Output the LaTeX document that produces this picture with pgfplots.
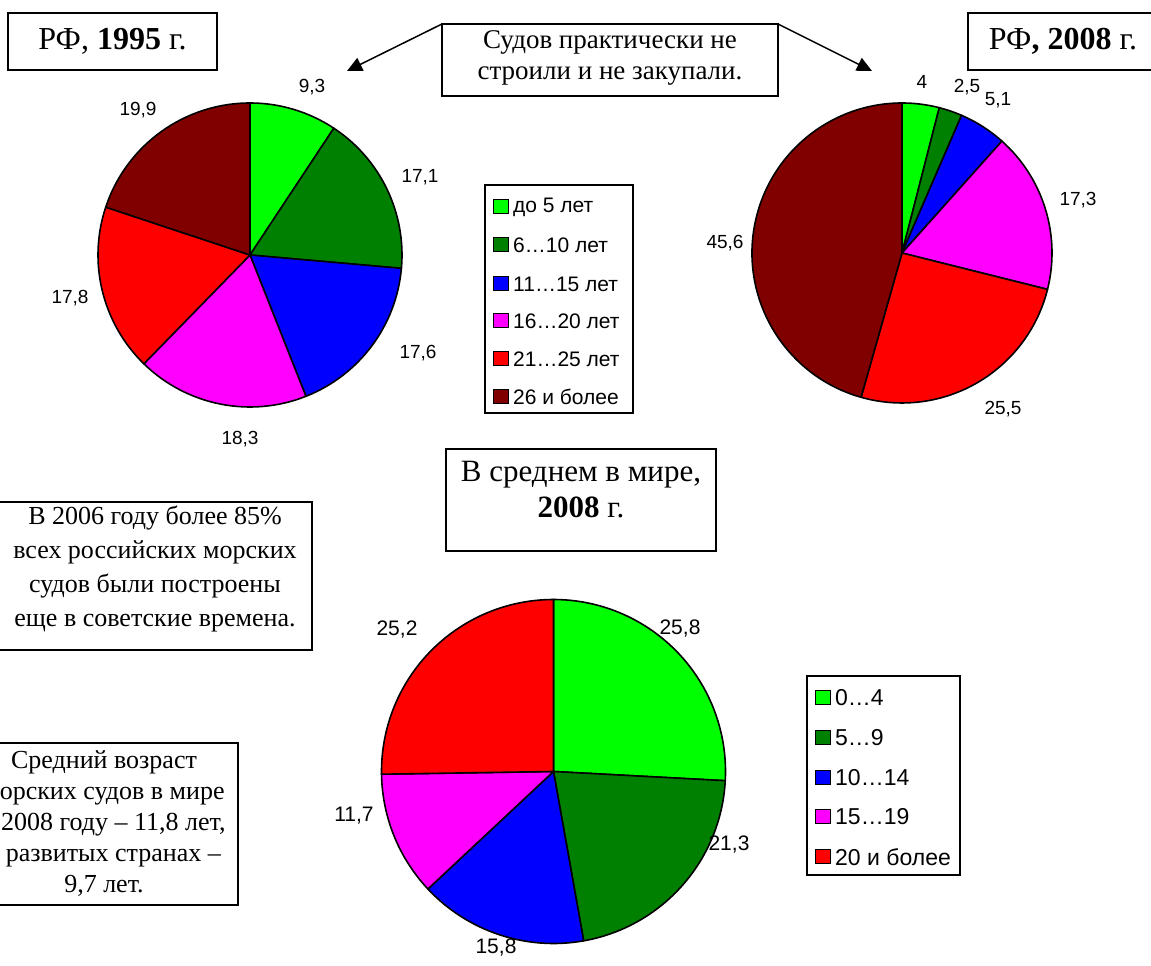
\documentclass[border=0pt]{standalone}
\usepackage{pgfplots}
\pgfplotsset{compat=1.18}
\usepackage{fontspec}
\setmainfont{Liberation Serif}
\newfontfamily\arial{Liberation Sans}
\usetikzlibrary{arrows.meta}

\definecolor{age1}{RGB}{0,255,0}
\definecolor{age2}{RGB}{0,128,0}
\definecolor{age3}{RGB}{0,0,255}
\definecolor{age4}{RGB}{255,0,255}
\definecolor{age5}{RGB}{255,0,0}
\definecolor{age6}{RGB}{128,0,0}

% one slice: #1 colour, #2 share before it, #3 its share, #4 degrees per unit, #5 radius
\newcommand{\slice}[5]{%
  \addplot[fill=#1, draw=black, line width=1.6pt, line join=round]
    table[row sep=\\, x expr={\thisrow{r}*cos(90-#4*#2)}, y expr={\thisrow{r}*sin(90-#4*#2)}]
    {r\\ 0\\ 1\\}
    arc[start angle={90-#4*#2}, end angle={90-#4*(#2+#3)}, radius=#5] -- cycle;}

\pgfplotsset{pie/.style={hide axis, scale only axis, width=#1, height=#1,
  xmin=-1, xmax=1, ymin=-1, ymax=1, anchor=center, clip=false}}

% legend row: x, y (page px, downwards), colour, text
\newcommand{\legitem}[4]{%
  \draw[fill=#3, line width=1pt] (#1,#2-7) rectangle ++(15,14);
  \node[anchor=west, inner sep=0pt] at (#1+20,#2) {#4};}

\begin{document}
\begin{tikzpicture}
\useasboundingbox (0,0) rectangle (1151pt,966pt);

% RF 1995: 9.3 17.1 17.6 18.3 17.8 19.9
\begin{axis}[pie=304pt, at={(250pt,711pt)}]
\slice{age1}{0}{9.3}{3.6}{152pt}
\slice{age2}{9.3}{17.1}{3.6}{152pt}
\slice{age3}{26.4}{17.6}{3.6}{152pt}
\slice{age4}{44.0}{18.3}{3.6}{152pt}
\slice{age5}{62.3}{17.8}{3.6}{152pt}
\slice{age6}{80.1}{19.9}{3.6}{152pt}
\end{axis}

% RF 2008: 4 2.5 5.1 17.3 25.5 45.6
\begin{axis}[pie=300pt, at={(902pt,713pt)}]
\slice{age1}{0}{4}{3.6}{150pt}
\slice{age2}{4}{2.5}{3.6}{150pt}
\slice{age3}{6.5}{5.1}{3.6}{150pt}
\slice{age4}{11.6}{17.3}{3.6}{150pt}
\slice{age5}{28.9}{25.5}{3.6}{150pt}
\slice{age6}{54.4}{45.6}{3.6}{150pt}
\end{axis}

% world 2008: 25.8 21.3 15.8 11.7 25.2 (sum 99.8)
\begin{axis}[pie=344pt, at={(553.5pt,194.5pt)}]
\slice{age1}{0}{25.8}{3.6072}{172pt}
\slice{age2}{25.8}{21.3}{3.6072}{172pt}
\slice{age3}{47.1}{15.8}{3.6072}{172pt}
\slice{age4}{62.9}{11.7}{3.6072}{172pt}
\slice{age5}{74.6}{25.2}{3.6072}{172pt}
\end{axis}

\begin{scope}[x=1pt, y=-1pt, yshift=966pt]
% value labels
\begin{scope}[font=\arial\fontsize{19}{22}\selectfont]
\node at (312,87) {9,3};
\node at (420,177) {17,1};
\node at (418,353) {17,6};
\node at (240,439) {18,3};
\node at (70,298) {17,8};
\node at (138,110) {19,9};
\node at (922,82) {4};
\node at (967,87) {2,5};
\node at (998,100) {5,1};
\node at (1078,200) {17,3};
\node at (1003,409) {25,5};
\node at (725,243) {45,6};
\end{scope}
\begin{scope}[font=\arial\fontsize{21}{24}\selectfont]
\node at (680,629) {25,8};
\node at (729,845) {21,3};
\node at (496,948) {15,8};
\node at (354,816) {11,7};
\node at (397,630) {25,2};
\end{scope}

% titles and notes
\draw[line width=1.5pt] (8,13) rectangle (217,70);
\node[font=\fontsize{32}{36}\selectfont] at (112.5,41.5) {РФ, \textbf{1995} г.};
\draw[line width=1.5pt] (968,13) rectangle (1158,70);
\node[font=\fontsize{32}{36}\selectfont] at (1063,41.5) {РФ\textbf{, 2008} г.};

\draw[line width=1.5pt] (442,24) rectangle (778,96);
\node[align=center, font=\fontsize{27}{31}\selectfont] at (610,58) {Судов практически не\\строили и не закупали.};
\draw[line width=1.5pt, -{Triangle[length=15pt, width=14pt]}] (442,24) -- (347,71);
\draw[line width=1.5pt, -{Triangle[length=15pt, width=14pt]}] (778,24) -- (872,71);

\draw[line width=1.5pt] (446,449) rectangle (716,551);
\node[align=center, font=\fontsize{31}{36}\selectfont] at (581,490) {В среднем в мире,\\\textbf{2008} г.};

\draw[line width=1.5pt] (-2,502) rectangle (312,650);
\node[align=center, font=\fontsize{26}{34}\selectfont] at (155,569) {В 2006 году более 85\%\\всех российских морских\\судов были построены\\еще в советские времена.};

\draw[line width=1.5pt] (-28,743) rectangle (238,905);
\node[align=center, font=\fontsize{26}{31}\selectfont] at (104,824) {Средний возраст\\морских судов в мире\\в 2008 году – 11,8 лет,\\в развитых странах –\\9,7 лет.};

% legends
\draw[line width=1.5pt] (485,185) rectangle (633,413);
\begin{scope}[font=\arial\fontsize{21}{24}\selectfont]
\legitem{493}{207}{age1}{до 5 лет}
\legitem{493}{245}{age2}{6…10 лет}
\legitem{493}{284}{age3}{11…15 лет}
\legitem{493}{321}{age4}{16…20 лет}
\legitem{493}{359}{age5}{21…25 лет}
\legitem{493}{397}{age6}{26 и более}
\end{scope}

\draw[line width=1.5pt] (807,676) rectangle (960,875);
\begin{scope}[font=\arial\fontsize{23}{26}\selectfont]
\legitem{815}{698}{age1}{0…4}
\legitem{815}{738}{age2}{5…9}
\legitem{815}{778}{age3}{10…14}
\legitem{815}{817}{age4}{15…19}
\legitem{815}{857}{age5}{20 и более}
\end{scope}
\end{scope}
\end{tikzpicture}
\end{document}
